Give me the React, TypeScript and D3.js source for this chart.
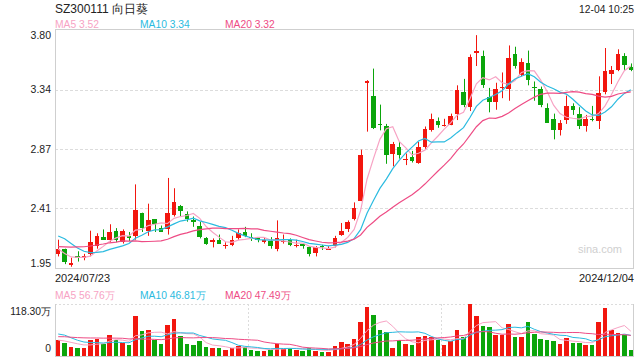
import React from 'react';
import * as d3 from 'd3';

// ---- Data ----
const opens = [2.06,2.10,1.97,2.04,2.03,2.06,2.12,2.19,2.17,2.24,2.15,2.20,2.20,2.38,2.24,2.33,2.26,2.25,2.36,2.43,
  2.37,2.32,2.28,2.18,2.15,2.17,2.12,2.13,2.18,2.23,2.19,2.18,2.15,2.16,2.10,2.15,2.17,2.12,2.14,2.11,
  2.07,2.12,2.09,2.12,2.21,2.25,2.33,2.47,3.39,3.29,3.07,3.05,2.84,2.89,2.79,2.81,2.77,2.89,3.02,3.09,
  3.05,3.06,3.15,3.32,3.20,3.62,3.60,3.28,3.24,3.35,3.34,3.61,3.45,3.54,3.36,3.34,3.19,3.11,3.02,3.10,
  3.21,3.15,3.05,3.11,3.09,3.32,3.46,3.49,3.60,3.51];
const closes = [2.10,2.00,1.99,2.03,2.04,2.15,2.20,2.17,2.23,2.17,2.24,2.18,2.40,2.26,2.32,2.29,2.23,2.38,2.46,2.39,
  2.33,2.31,2.19,2.14,2.17,2.14,2.13,2.17,2.22,2.20,2.18,2.17,2.17,2.12,2.18,2.16,2.13,2.13,2.12,2.06,
  2.11,2.11,2.10,2.18,2.24,2.31,2.42,2.83,3.40,3.04,3.06,2.83,2.91,2.83,2.80,2.78,2.89,3.03,3.11,3.06,
  3.06,3.13,3.33,3.22,3.59,3.64,3.37,3.24,3.34,3.36,3.58,3.52,3.55,3.41,3.35,3.22,3.08,3.02,3.08,3.21,
  3.18,3.05,3.11,3.10,3.31,3.48,3.49,3.61,3.53,3.49];
const highs = [2.17,2.10,2.03,2.08,2.06,2.24,2.22,2.25,2.29,2.26,2.25,2.23,2.60,2.38,2.45,2.33,2.28,2.65,2.57,2.44,
  2.39,2.35,2.31,2.19,2.18,2.21,2.15,2.20,2.25,2.27,2.22,2.19,2.19,2.19,2.32,2.21,2.18,2.17,2.14,2.12,
  2.12,2.13,2.12,2.20,2.30,2.32,2.46,2.87,3.41,3.50,3.22,3.07,2.93,2.93,2.84,2.86,2.93,3.05,3.15,3.12,
  3.11,3.15,3.37,3.42,3.61,3.76,3.64,3.35,3.39,3.47,3.68,3.67,3.58,3.64,3.40,3.36,3.23,3.15,3.10,3.29,
  3.23,3.20,3.14,3.21,3.44,3.66,3.52,3.65,3.62,3.54];
const lows = [2.04,1.98,1.96,2.00,2.01,2.04,2.10,2.17,2.15,2.15,2.14,2.16,2.17,2.23,2.20,2.23,2.23,2.21,2.35,2.35,
  2.31,2.27,2.18,2.13,2.11,2.14,2.10,2.12,2.17,2.19,2.16,2.15,2.14,2.10,2.08,2.14,2.12,2.11,2.10,2.04,
  2.04,2.09,2.09,2.11,2.20,2.23,2.32,2.47,3.01,3.03,3.02,2.76,2.74,2.80,2.75,2.77,2.76,2.87,3.01,3.04,
  3.05,3.06,3.10,3.20,3.17,3.52,3.35,3.16,3.18,3.27,3.25,3.50,3.44,3.37,3.25,3.20,3.08,2.95,2.98,3.07,
  3.14,3.03,3.01,3.09,3.03,3.30,3.38,3.48,3.49,3.48];
// volumes in 万
const volumes = [36.4,30.3,21.2,19.0,19.0,36.4,38.7,27.3,47.8,36.4,30.3,25.0,91.0,57.6,59.2,36.4,27.3,70.5,84.2,45.5,
  26.5,25.0,34.1,21.2,17.4,19.0,13.7,19.0,22.8,21.2,13.7,11.4,12.1,13.7,27.3,15.2,17.4,13.7,12.1,19.0,
  11.4,9.9,9.9,22.8,32.6,27.3,39.4,78.1,112.2,93.3,59.2,55.4,17.4,36.4,27.3,25.0,44.0,45.5,42.5,36.4,
  25.0,34.9,59.2,42.5,118.3,91.0,68.3,65.2,47.8,47.8,72.8,42.5,44.0,78.1,50.1,38.7,36.4,34.9,27.3,40.2,
  30.3,30.3,25.0,25.0,78.1,110.0,59.2,51.6,47.8,13.7];
// sessions before the visible window (estimated from where the MA lines start)
const priorCloses = [2.05,2.02,2.00,2.01,2.03,2.04,2.02,2.04,2.06,2.06,2.22,2.35,2.38,2.30,2.25,2.18,2.12,2.05,2.04];
const priorVolumes = [32,44,36,30,42,40,34,46,38,36,56,82,74,60,48,40,37,35,32];

const priceTicks = [3.80, 3.3375, 2.875, 2.4125, 1.95];
const priceTickLabels = ['3.80', '3.34', '2.87', '2.41', '1.95'];
const volTickValues = [118.3, 0];
const volTickLabels = ['118.30万', '0'];
const dateLabels = ['2024/07/23', '2024/12/04'];
const maPeriods = [5, 10, 20];
const priceLegendValues = ['3.52', '3.34', '3.32'];
const volLegendValues = ['56.76万', '46.81万', '47.49万'];
const title = 'SZ300111 向日葵';
const timeLabel = '12-04 10:25';

const UP = '#f2160e';
const DOWN = '#0ba50b';
const MA_COLORS = ['#f7a3c4', '#2bbbe0', '#ee4c85'];
const FONT = "Arial, 'Liberation Sans', sans-serif";

function movingAvg(series: number[], prior: number[], n: number): number[] {
  const all = prior.concat(series);
  const off = prior.length;
  return series.map((_, i) => {
    const end = i + off;
    const slice = all.slice(Math.max(0, end - n + 1), end + 1);
    return d3.mean(slice) as number;
  });
}

export default function App() {
  const W = 640, H = 360;
  const L = 55, R = 634;
  const pTop = 30, pBot = 268;
  const vTop = 304, vBot = 356;
  const n = closes.length;

  const x = d3.scaleBand<number>().domain(d3.range(n)).range([L, R]).paddingInner(0.3).paddingOuter(0.15);
  const bw = x.bandwidth();
  const xc = (i: number) => (x(i) as number) + bw / 2;
  const y = d3.scaleLinear().domain([1.95, 3.80]).range([pBot, pTop]);
  const yv = d3.scaleLinear().domain([0, 118.3]).range([vBot, vTop]);

  const isUp = (i: number) => closes[i] > opens[i] || (closes[i] === opens[i] && (i === 0 || closes[i] >= closes[i - 1]));

  const priceMAs = maPeriods.map((p) => movingAvg(closes, priorCloses, p));
  const volMAs = maPeriods.map((p) => movingAvg(volumes, priorVolumes, p));
  const pLine = d3.line<number>().x((_, i) => xc(i)).y((d) => y(d));
  const vLine = d3.line<number>().x((_, i) => xc(i)).y((d) => yv(d));

  const gridColor = '#dcdcdc';
  const borderColor = '#cfcfcf';
  const legendX = [55, 140, 225];

  return (
    <svg width={W} height={H} style={{ position: 'absolute', left: 0, top: 0, background: '#fff' }} fontFamily={FONT}>
      <rect x={0} y={0} width={W} height={H} fill="#fff" />
      {/* header */}
      <text x={55} y={13} fontSize={12} fill="#222">{title}</text>
      <text x={634} y={12.5} fontSize={10.3} fill="#222" textAnchor="end">{timeLabel}</text>
      {maPeriods.map((p, k) => (
        <text key={'pl' + p} x={legendX[k]} y={27.5} fontSize={10.3} fill={MA_COLORS[k]}>{`MA${p} ${priceLegendValues[k]}`}</text>
      ))}

      {/* price grid */}
      {priceTicks.slice(1, -1).map((t) => (
        <line key={'g' + t} x1={L} x2={R} y1={Math.round(y(t)) + 0.5} y2={Math.round(y(t)) + 0.5} stroke={gridColor} strokeDasharray="3,2" />
      ))}
      <rect x={L + 0.5} y={pTop - 0.5} width={R - L - 1} height={pBot - pTop + 1} fill="none" stroke={borderColor} />
      {priceTicks.map((t, k) => {
        const yy = y(t);
        const dy = k === 0 ? 8.5 : k === priceTicks.length - 1 ? -1 : 3.5;
        return (
          <text key={'pt' + k} x={51} y={yy + dy} fontSize={10.5} fill="#222" textAnchor="end">{priceTickLabels[k]}</text>
        );
      })}
      <text x={622} y={253} fontSize={11} fill="#cfcfcf" textAnchor="end">sina.com</text>

      {/* candles */}
      {closes.map((c, i) => {
        const o = opens[i];
        const col = isUp(i) ? UP : DOWN;
        const top = y(Math.max(o, c));
        const bot = y(Math.min(o, c));
        const cx = Math.round(xc(i)) + 0.5;
        return (
          <g key={'c' + i}>
            <line x1={cx} x2={cx} y1={y(highs[i])} y2={y(lows[i])} stroke={col} strokeWidth={1} />
            <rect x={x(i) as number} y={top} width={bw} height={Math.max(1, bot - top)} fill={col} shapeRendering="crispEdges" />
          </g>
        );
      })}
      {priceMAs.map((m, k) => (
        <path key={'pm' + k} d={pLine(m) as string} fill="none" stroke={MA_COLORS[k]} strokeWidth={1.2} />
      ))}

      {/* date labels */}
      <text x={55} y={282} fontSize={11} fill="#222">{dateLabels[0]}</text>
      <text x={634} y={282} fontSize={11} fill="#222" textAnchor="end">{dateLabels[1]}</text>

      {/* volume panel */}
      {maPeriods.map((p, k) => (
        <text key={'vl' + p} x={legendX[k]} y={298.5} fontSize={10.3} fill={MA_COLORS[k]}>{`MA${p} ${volLegendValues[k]}`}</text>
      ))}
      <line x1={L} x2={R} y1={vTop + 0.5} y2={vTop + 0.5} stroke={gridColor} strokeDasharray="2,2" />
      {[1, 2].map((k) => {
        const gx = Math.round(L + ((R - L) * k) / 3) + 0.5;
        return <line key={'vg' + k} x1={gx} x2={gx} y1={vTop} y2={vBot} stroke={gridColor} strokeDasharray="2,2" />;
      })}
      <line x1={L + 0.5} x2={L + 0.5} y1={vTop} y2={vBot} stroke={borderColor} />
      <line x1={R - 0.5} x2={R - 0.5} y1={vTop} y2={vBot} stroke={borderColor} />
      <line x1={L} x2={R} y1={vBot + 0.5} y2={vBot + 0.5} stroke={borderColor} />
      {volTickValues.map((v, k) => (
        <text key={'vt' + k} x={51} y={k === 0 ? yv(v) + 10.5 : yv(v) - 4} fontSize={10.3} fill="#222" textAnchor="end">{volTickLabels[k]}</text>
      ))}
      {volumes.map((v, i) => (
        <rect key={'v' + i} x={x(i) as number} y={yv(v)} width={bw} height={vBot - yv(v)} fill={isUp(i) ? UP : DOWN} shapeRendering="crispEdges" />
      ))}
      {volMAs.map((m, k) => (
        <path key={'vm' + k} d={vLine(m) as string} fill="none" stroke={MA_COLORS[k]} strokeWidth={1} />
      ))}
    </svg>
  );
}
